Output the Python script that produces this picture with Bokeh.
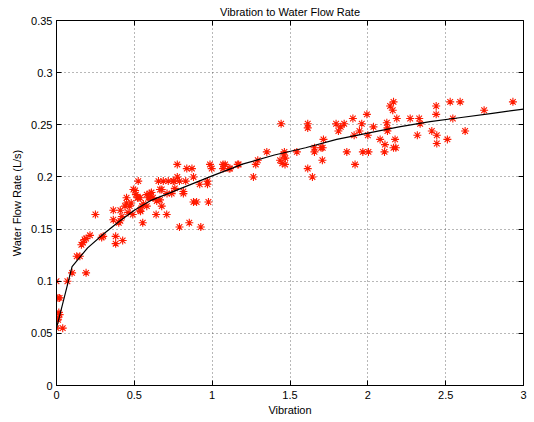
from bokeh.plotting import figure
from bokeh.models import LinearAxis, FixedTicker, Range1d
from bokeh.embed import file_html
from bokeh.resources import INLINE

# measured data (Vibration, Water Flow Rate)
vib = [0.00, 0.04, 0.01, 0.01, 0.02, 0.015, 0.01, 0.02, 0.00, 0.07, 0.10, 0.19, 0.13, 0.15,
       0.16, 0.17, 0.18, 0.19, 0.215, 0.25, 0.29, 0.30,
       0.365, 0.365, 0.38, 0.38, 0.41, 0.40, 0.41, 0.42, 0.425, 0.44, 0.45, 0.45, 0.46, 0.47,
       0.48, 0.49, 0.494, 0.505, 0.51, 0.52, 0.525, 0.525, 0.537, 0.537, 0.54, 0.55, 0.554,
       0.558, 0.58, 0.58, 0.59, 0.60, 0.60, 0.61, 0.62, 0.64, 0.644, 0.655, 0.665, 0.665,
       0.676, 0.676, 0.686, 0.708, 0.71, 0.718, 0.74, 0.75, 0.755, 0.76, 0.776, 0.776, 0.79,
       0.79, 0.815, 0.815, 0.83, 0.837, 0.853, 0.87, 0.88, 0.88, 0.90, 0.92, 0.927, 0.97,
       0.97, 0.976, 0.986, 0.997, 1.07, 1.07, 1.083, 1.109, 1.115, 1.164, 1.17,
       1.265, 1.28, 1.293, 1.351, 1.436, 1.443, 1.45, 1.464, 1.468, 1.47, 1.46, 1.544, 1.614,
       1.614, 1.614, 1.644, 1.657, 1.657, 1.70, 1.71, 1.708, 1.715, 1.796, 1.811, 1.826, 1.848,
       1.865, 1.904, 1.912, 1.918, 1.946, 1.961, 1.968, 1.994, 2.00, 2.004, 2.036, 2.079, 2.107,
       2.11, 2.122, 2.126, 2.126, 2.143, 2.16, 2.165, 2.165, 2.18, 2.175, 2.186, 2.272, 2.318,
       2.33, 2.336, 2.411, 2.439, 2.439, 2.443, 2.443, 2.511, 2.529, 2.546, 2.593, 2.625,
       2.747, 2.932]
flow = [0.055, 0.055, 0.063, 0.065, 0.068, 0.070, 0.084, 0.084, 0.100, 0.100, 0.108, 0.108, 0.124, 0.124,
        0.135, 0.137, 0.140, 0.141, 0.144, 0.164, 0.142, 0.143,
        0.168, 0.159, 0.136, 0.143, 0.168, 0.156, 0.158, 0.162, 0.139, 0.172, 0.180, 0.175, 0.166, 0.172,
        0.175, 0.164, 0.188, 0.187, 0.183, 0.180, 0.196, 0.180, 0.180, 0.168, 0.167, 0.172, 0.156,
        0.174, 0.183, 0.172, 0.180, 0.184, 0.180, 0.185, 0.180, 0.164, 0.177, 0.196, 0.188, 0.178,
        0.172, 0.188, 0.196, 0.164, 0.184, 0.196, 0.184, 0.196, 0.196, 0.189, 0.212, 0.200, 0.196,
        0.152, 0.186, 0.184, 0.196, 0.208, 0.156, 0.208, 0.200, 0.176, 0.176, 0.193, 0.152, 0.196,
        0.193, 0.176, 0.212, 0.208, 0.212, 0.208, 0.212, 0.208, 0.208, 0.212, 0.212,
        0.200, 0.212, 0.216, 0.224, 0.216, 0.251, 0.213, 0.224, 0.212, 0.218, 0.221, 0.224, 0.251,
        0.247, 0.208, 0.200, 0.228, 0.224, 0.228, 0.228, 0.216, 0.236, 0.251, 0.244, 0.248, 0.251,
        0.224, 0.256, 0.240, 0.212, 0.244, 0.251, 0.224, 0.260, 0.240, 0.224, 0.248, 0.236, 0.224,
        0.231, 0.252, 0.247, 0.244, 0.268, 0.264, 0.272, 0.228, 0.228, 0.236, 0.256, 0.256, 0.240,
        0.256, 0.251, 0.244, 0.268, 0.260, 0.240, 0.232, 0.236, 0.272, 0.256, 0.272, 0.244,
        0.264, 0.272]

# fitted curve
fit_x = [0.0, 0.1, 0.2, 0.3, 0.4, 0.5, 0.6, 0.7, 0.8, 0.9, 1.0, 1.2, 1.4, 1.6, 1.8, 2.0, 2.2, 2.4, 2.6, 2.8, 3.0]
fit_y = [0.055, 0.114, 0.132, 0.145, 0.157, 0.168, 0.177, 0.183, 0.189, 0.195, 0.201, 0.2125, 0.221,
         0.228, 0.236, 0.242, 0.248, 0.253, 0.257, 0.261, 0.265]

x_ticks = [0, 0.5, 1, 1.5, 2, 2.5, 3]
x_tick_labels = ["0", "0.5", "1", "1.5", "2", "2.5", "3"]
y_ticks = [0, 0.05, 0.1, 0.15, 0.2, 0.25, 0.3, 0.35]
y_tick_labels = ["0", "0.05", "0.1", "0.15", "0.2", "0.25", "0.3", "0.35"]

FONT = "Liberation Sans"

p = figure(width=534, height=422, output_backend="svg", toolbar_location=None,
           x_range=Range1d(0, 3), y_range=Range1d(0, 0.35),
           min_border_left=56, min_border_right=11, min_border_top=18, min_border_bottom=37)
p.background_fill_color = "white"
p.border_fill_color = "white"
p.outline_line_color = "black"
p.outline_line_width = 1

p.title.text = "Vibration to Water Flow Rate"
p.title.align = "center"
p.title.text_font = FONT
p.title.text_font_size = "11px"
p.title.text_font_style = "normal"
p.title.text_color = "black"
p.title.text_line_height = 1.0
p.title.standoff = 6
p.title.offset = 0

for ax, ticks, labels in ((p.xaxis[0], x_ticks, x_tick_labels), (p.yaxis[0], y_ticks, y_tick_labels)):
    ax.ticker = FixedTicker(ticks=ticks)
    ax.major_label_overrides = {t: l for t, l in zip(ticks, labels)}
    ax.major_tick_in = 5
    ax.major_tick_out = 0
    ax.minor_tick_in = 0
    ax.minor_tick_out = 0
    ax.axis_line_color = "black"
    ax.major_tick_line_color = "black"
    ax.major_label_text_font = FONT
    ax.major_label_text_font_size = "11px"
    ax.major_label_text_color = "black"
    ax.axis_label_text_font = FONT
    ax.axis_label_text_font_size = "11px"
    ax.axis_label_text_font_style = "normal"
    ax.axis_label_text_color = "black"

p.xaxis[0].axis_label = "Vibration"
p.yaxis[0].axis_label = "Water Flow Rate (L/s)"
p.xaxis[0].major_label_standoff = 5
p.xaxis[0].axis_label_standoff = 2
p.yaxis[0].major_label_standoff = 4
p.yaxis[0].axis_label_standoff = 5

# box ticks on top and right (no labels)
for loc, ticks in (("above", x_ticks), ("right", y_ticks)):
    a = LinearAxis(ticker=FixedTicker(ticks=ticks), major_tick_in=5, major_tick_out=0,
                   minor_tick_in=0, minor_tick_out=0,
                   major_label_overrides={t: "" for t in ticks},
                   major_label_standoff=0, axis_line_color=None, major_tick_line_color="black")
    p.add_layout(a, loc)

p.xgrid.ticker = FixedTicker(ticks=x_ticks)
p.ygrid.ticker = FixedTicker(ticks=y_ticks)
for g in (p.xgrid[0], p.ygrid[0]):
    g.grid_line_color = "#333333"
    g.grid_line_dash = "1 3"
    g.grid_line_width = 1
    g.grid_line_alpha = 0.7

p.scatter(vib, flow, marker="asterisk", size=8, line_color="#ff1a00", line_width=1.1)
p.line(fit_x, fit_y, line_color="black", line_width=1.2)

open("out.html", "w").write(file_html(p, INLINE))
